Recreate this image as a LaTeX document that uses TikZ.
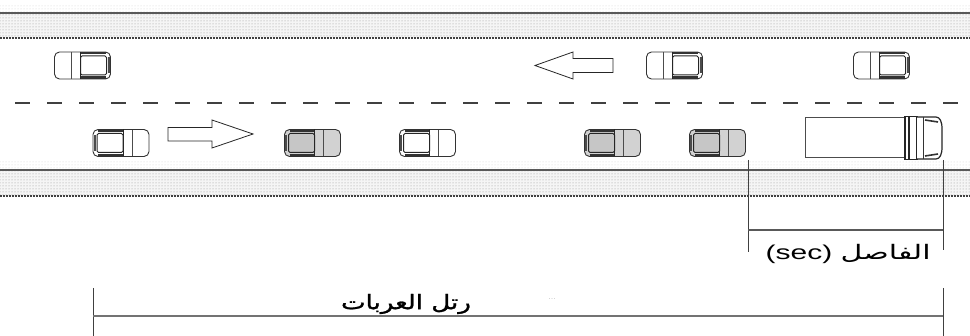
\documentclass[tikz,border=0pt]{standalone}
\usepackage{fontspec}
\setmainfont{Liberation Sans}
\newfontfamily\arabicfont[Script=Arabic]{DejaVu Sans}
\newfontfamily\arabicheavy[Script=Arabic, FakeBold=1.2]{DejaVu Sans}
\TeXXeTstate=1
\usetikzlibrary{patterns}

% car seen from above, front towards +x; #1 body fill, #2 roof fill
\newcommand\carshape[2]{%
  \draw[line width=0.9pt, black!80, fill=#1, rounded corners=5pt]
    (-28,-13.5) rectangle (28,13.5);
  \draw[line width=2.4pt, black!80] (-23,-12.2) -- (2,-12.2);
  \draw[line width=2.4pt, black!80] (-23,12.2) -- (2,12.2);
  \draw[line width=1.8pt, black!70] (-26.2,-8) -- (-26.2,8);
  \draw[line width=1pt, black!85, fill=#2, rounded corners=1.5pt]
    (-24,-9.5) rectangle (2,9.5);
  \draw[line width=1pt, black!85] (2,-13.5) -- (2,13.5);
  \draw[line width=0.8pt, black!70] (11,-13.3) -- (11,13.3);
}

\tikzset{
  carw/.pic={\carshape{white}{white}},
  carg/.pic={\carshape{gray!35}{gray!45}},
  verge/.style={fill=gray!8, postaction={pattern=dots, pattern color=gray!85}},
  vergefaint/.style={pattern=dots, pattern color=gray!35},
  edgeline/.style={line width=1.5pt, black!65},
  edgedots/.style={line width=1.4pt, black!75, dash pattern=on 2pt off 1pt},
  lanemark/.style={line width=1.8pt, black!75, dash pattern=on 15pt off 17pt},
  flowarrow/.style={line width=0.8pt, black!85, fill=white, line join=miter},
  dimline/.style={line width=0.8pt, black!75},
  dimbar/.style={line width=1.2pt, black!65},
  label/.style={font=\fontsize{20}{22}\selectfont, inner sep=0pt, xscale=1.5}
}

\begin{document}
\begin{tikzpicture}[x=1pt,y=-1pt]
\useasboundingbox (0,0) rectangle (970,336);
\fill[white] (0,0) rectangle (970,336);

% road verges
\path[vergefaint] (0,4) rectangle (970,13);
\path[verge] (0,13) rectangle (970,38);
\draw[edgeline] (0,13) -- (970,13);
\draw[edgedots] (0,38) -- (970,38);

\path[vergefaint] (0,162) rectangle (970,170);
\path[verge] (0,170) rectangle (970,196);
\draw[edgeline] (0,170) -- (970,170);
\draw[edgedots] (0,196) -- (970,196);

% lane separator
\draw[lanemark] (15,103) -- (970,103);

% upper lane, traffic to the left
\pic[xscale=-1] at (82.5,65.5) {carw};
\pic[xscale=-1] at (674.5,65.5) {carw};
\pic[xscale=-1] at (881.5,65.5) {carw};
\draw[flowarrow] (535,65.5) -- (573,52) -- (573,58.5) -- (613,58.5)
  -- (613,72.5) -- (573,72.5) -- (573,79) -- cycle;

% lower lane, traffic to the right
\pic at (121,143) {carw};
\draw[flowarrow] (253,134) -- (212,120) -- (212,127.5) -- (168,127.5)
  -- (168,141) -- (212,141) -- (212,148) -- cycle;
\pic at (312.5,143) {carg};
\pic at (427.5,143) {carw};
\pic at (612.5,143) {carg};
\pic at (717.5,143) {carg};

% truck
\draw[line width=1pt, black!70, fill=white] (805,118) rectangle (905,158);
\draw[line width=1.3pt, black!85, fill=white] (905,116.5) rectangle (917,159.5);
\draw[line width=2pt, black!85] (909,117) -- (909,159);
\draw[line width=1.2pt, black!85, fill=white, rounded corners=3pt]
  (917,117) -- (939,117) -- (942,124) -- (942,152) -- (939,159) -- (917,159);
\draw[line width=0.9pt, black!80] (923,117) -- (923,159);
\draw[line width=1.6pt, black!80] (925,156) -- (938,154);
\draw[line width=1.6pt, black!80] (925,120) -- (938,122);

% headway dimension
\coordinate (gapTL) at (748,160);
\coordinate (gapBL) at (748,252);
\coordinate (gapTR) at (943,160);
\coordinate (gapBR) at (943,250);
\coordinate (gapA) at (748,230);
\coordinate (gapB) at (943,230);
\draw[dimline] (gapTL) -- (gapBL);
\draw[dimline] (gapTR) -- (gapBR);
\draw[dimbar] (gapA) -- (gapB);
\node[label, anchor=east] (gaptext) at (931,254)
  {(sec) {\arabicfont\beginR الفاصل\endR}};

% platoon dimension
\coordinate (platTL) at (93,288);
\coordinate (platBL) at (93,336);
\coordinate (platTR) at (943,288);
\coordinate (platBR) at (943,336);
\coordinate (platA) at (93,316);
\coordinate (platB) at (943,316);
\draw[dimline] (platTL) -- (platBL);
\draw[dimline] (platTR) -- (platBR);
\draw[line width=2pt, black!55] (platA) -- (platB);
\node[label, xscale=0.87] (plattext) at (406,304)
  {\arabicheavy\beginR رتل العربات\endR};
\node[font=\fontsize{9}{10}\selectfont, text=gray!40, inner sep=0pt] (dots) at (552,299) {...};
\end{tikzpicture}
\end{document}
